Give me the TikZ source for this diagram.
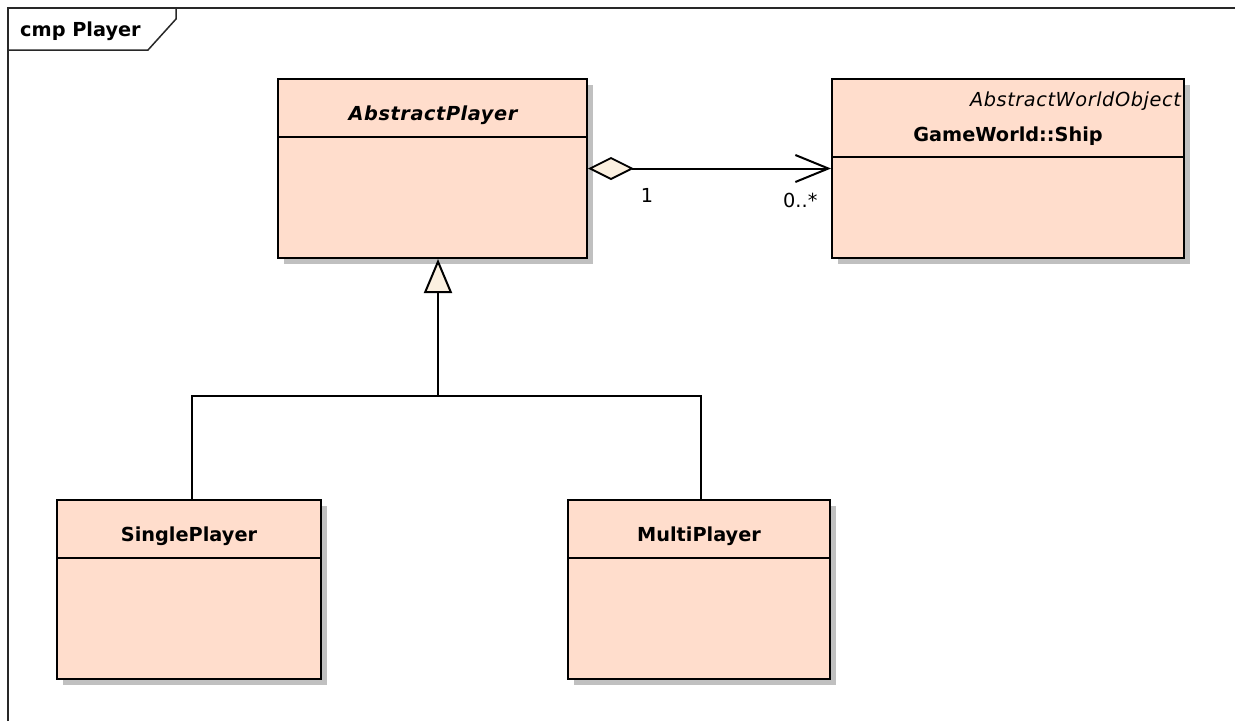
\documentclass[tikz,border=0pt]{standalone}
\usepackage{fontspec}
\setmainfont{DejaVu Sans}
\usetikzlibrary{arrows.meta,shadows,calc}

\definecolor{classfill}{RGB}{255,221,204}
\definecolor{tipfill}{RGB}{251,240,224}
\definecolor{shadowgray}{RGB}{192,192,192}
\definecolor{framegray}{RGB}{40,40,40}

\tikzset{
  frameline/.style={draw=framegray, line width=1.5pt},
  classbox/.style={draw=black, line width=2pt, fill=classfill, inner sep=0pt,
    drop shadow={shadow xshift=6pt, shadow yshift=-6pt, fill=shadowgray, opacity=1}},
  sepline/.style={draw=black, line width=1.6pt},
  classname/.style={font=\fontsize{19.3}{22}\selectfont\bfseries, inner sep=0pt, anchor=base},
  abstractname/.style={font=\fontsize{19.3}{22}\selectfont\bfseries\itshape\addfontfeature{LetterSpace=3}, inner sep=0pt, anchor=base},
  stereo/.style={font=\fontsize{19.3}{22}\selectfont\itshape\addfontfeature{LetterSpace=3}, inner sep=0pt, anchor=base east},
  multlabel/.style={font=\fontsize{19.3}{22}\selectfont, inner sep=0pt, anchor=base},
  connector/.style={draw=black, line width=2pt},
  aggregation/.style={connector,
    {Diamond[length=46pt, width=23pt, fill=tipfill, line width=1.8pt]}-{Straight Barb[length=33pt, width=27pt, line width=2pt]}},
  generalization/.style={connector,
    -{Triangle[length=34pt, width=28pt, fill=tipfill, line width=2pt, line join=miter]}},
}

\begin{document}
\begin{tikzpicture}[x=1pt, y=-1pt]
  \useasboundingbox (0,0) rectangle (1235,721);
  \fill[white] (0,0) rectangle (1235,721);

  % diagram frame and its name tab
  \draw[frameline] (8,721) -- (8,8) -- (1235,8);
  \draw[frameline] (8,50) -- (148,50) -- (176,19) -- (176,8);
  \node[font=\fontsize{19.3}{22}\selectfont\bfseries, inner sep=0pt, anchor=base west]
    (frametitle) at (20,36.7) {cmp Player};

  % classes
  \node[classbox, minimum width=309pt, minimum height=179pt] (ap) at (432.5,168.5) {};
  \draw[sepline] (ap.west |- 0,137) -- (ap.east |- 0,137);
  \node[abstractname] (apname) at (433,120.7) {AbstractPlayer};

  \node[classbox, minimum width=352pt, minimum height=179pt] (ship) at (1008,168.5) {};
  \draw[sepline] (ship.west |- 0,157) -- (ship.east |- 0,157);
  \node[stereo] (shipstereo) at (1181,106.7) {AbstractWorldObject};
  \node[classname] (shipname) at (1008,141.7) {GameWorld::Ship};

  \node[classbox, minimum width=264pt, minimum height=179pt] (sp) at (189,589.5) {};
  \draw[sepline] (sp.west |- 0,558) -- (sp.east |- 0,558);
  \node[classname] (spname) at (189,541.7) {SinglePlayer};

  \node[classbox, minimum width=262pt, minimum height=179pt] (mp) at (699,589.5) {};
  \draw[sepline] (mp.west |- 0,558) -- (mp.east |- 0,558);
  \node[classname] (mpname) at (699,541.7) {MultiPlayer};

  % aggregation AbstractPlayer -> Ship
  \draw[aggregation] (ap.east) -- (ship.west);
  \node[multlabel] (mult1) at (647,202) {1};
  \node[multlabel, anchor=base west] (multmany) at (783,207.7) {0..*};

  % generalization tree
  \coordinate (junction) at ($(ap.south |- 0,396) + (5.5,0)$);
  \draw[connector] ([xshift=3pt]sp.north) |- (junction);
  \draw[connector] ([xshift=2pt]mp.north) |- (junction);
  \draw[generalization] (junction) -- ([xshift=5.5pt]ap.south);
\end{tikzpicture}
\end{document}
